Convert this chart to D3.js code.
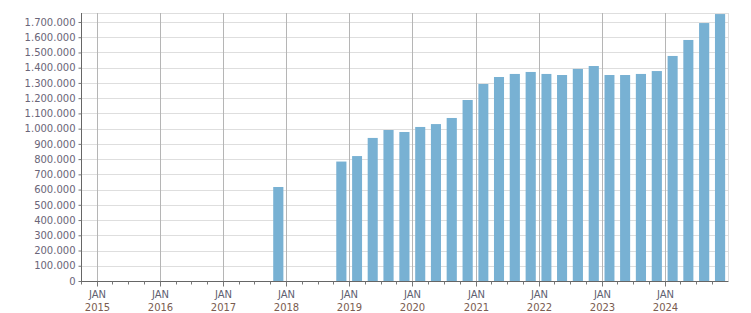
<!DOCTYPE html>
<html>
<head>
<meta charset="utf-8">
<script src="https://cdn.jsdelivr.net/npm/d3@7"></script>
<style>
  html, body { margin: 0; padding: 0; background: #fff; }
  svg { display: block; }
  text { font-family: "DejaVu Sans", Verdana, sans-serif; font-size: 10px; }
</style>
</head>
<body>
<svg id="chart" width="751" height="313"></svg>
<script>
// Quarter start months (YYYY-MM) of each bar
const quarters = ["2017-10",
  "2018-10", "2019-01", "2019-04", "2019-07", "2019-10",
  "2020-01", "2020-04", "2020-07", "2020-10",
  "2021-01", "2021-04", "2021-07", "2021-10",
  "2022-01", "2022-04", "2022-07", "2022-10",
  "2023-01", "2023-04", "2023-07", "2023-10",
  "2024-01", "2024-04", "2024-07", "2024-10"];
const values = [617000,
  784000, 820000, 939000, 991000, 978000,
  1011000, 1030000, 1070000, 1188000,
  1293000, 1339000, 1359000, 1372000,
  1359000, 1352000, 1392000, 1411000,
  1352000, 1352000, 1359000, 1378000,
  1477000, 1582000, 1693000, 1752000];
const yTicks = [0, 100000, 200000, 300000, 400000, 500000, 600000, 700000, 800000,
  900000, 1000000, 1100000, 1200000, 1300000, 1400000, 1500000, 1600000, 1700000];
const yearLabels = ["2015", "2016", "2017", "2018", "2019", "2020", "2021", "2022", "2023", "2024"];
const monthLabel = "JAN";

(function () {
const svg = d3.select("#chart");
const mLeft = 81, mRight = 728, mTop = 13, mBottom = 281;

const parse = d3.timeParse("%Y-%m");
const x = d3.scaleTime()
  .domain([new Date(2014, 9, 1), new Date(2025, 0, 1)])
  .range([mLeft, mRight]);
const y = d3.scaleLinear().domain([0, 1759000]).range([mBottom, mTop]);

const locale = d3.formatLocale({decimal: ",", thousands: ".", grouping: [3], currency: ["", ""]});
const fmt = locale.format(",d");

// horizontal grid
svg.append("g").selectAll("line").data(yTicks.filter(d => d > 0)).join("line")
  .attr("x1", mLeft).attr("x2", mRight)
  .attr("y1", d => Math.round(y(d)) + 0.5).attr("y2", d => Math.round(y(d)) + 0.5)
  .attr("stroke", "#dedede").attr("stroke-width", 1);
// top and right border
svg.append("line").attr("x1", mLeft).attr("x2", mRight + 0.5).attr("y1", mTop + 0.5).attr("y2", mTop + 0.5)
  .attr("stroke", "#dedede");
svg.append("line").attr("x1", mRight + 0.5).attr("x2", mRight + 0.5).attr("y1", mTop).attr("y2", mBottom)
  .attr("stroke", "#dedede");

// vertical year grid
const years = yearLabels.map(s => new Date(+s, 0, 1));
svg.append("g").selectAll("line").data(years).join("line")
  .attr("x1", d => Math.round(x(d)) + 0.5).attr("x2", d => Math.round(x(d)) + 0.5)
  .attr("y1", mTop).attr("y2", mBottom)
  .attr("stroke", "#b5b5b5").attr("stroke-width", 1);

// bars
const data = quarters.map((q, i) => ({start: parse(q), value: values[i]}));
const bw = d => (x(d3.timeMonth.offset(d.start, 3)) - x(d.start)) * 0.64;
svg.append("g").selectAll("rect").data(data).join("rect")
  .attr("x", d => {
    const s = x(d.start), e = x(d3.timeMonth.offset(d.start, 3));
    return s + (e - s - bw(d)) / 2;
  })
  .attr("width", bw)
  .attr("y", d => y(d.value))
  .attr("height", d => y(0) - y(d.value))
  .attr("fill", "#78b1d3");

// y axis
const yAxis = svg.append("g").attr("transform", `translate(${mLeft + 0.5},0)`)
  .call(d3.axisLeft(y).tickValues(yTicks).tickFormat(fmt).tickSize(3).tickPadding(3).tickSizeOuter(0));
yAxis.select(".domain").attr("stroke", "#666").attr("d", `M0,${mTop}V${mBottom + 0.5}`);
yAxis.selectAll(".tick line").attr("stroke", "#777");
yAxis.selectAll(".tick text").attr("fill", "#6a6578").style("font-family", "'DejaVu Sans', sans-serif").style("font-size", "10px");

// x axis
const xg = svg.append("g").attr("transform", `translate(0,${mBottom + 0.5})`);
xg.append("line").attr("x1", mLeft).attr("x2", mRight + 0.5).attr("stroke", "#666");
const minor = d3.timeMonth.every(3).range(x.domain()[0], d3.timeDay.offset(x.domain()[1], 1));
xg.selectAll("line.minor").data(minor.filter(d => d.getMonth() !== 0)).join("line")
  .attr("class", "minor")
  .attr("x1", d => Math.round(x(d)) + 0.5).attr("x2", d => Math.round(x(d)) + 0.5)
  .attr("y1", 0).attr("y2", 3).attr("stroke", "#777");
xg.selectAll("line.major").data(years).join("line")
  .attr("class", "major")
  .attr("x1", d => Math.round(x(d)) + 0.5).attr("x2", d => Math.round(x(d)) + 0.5)
  .attr("y1", 0).attr("y2", 5).attr("stroke", "#777");
const lbl = xg.selectAll("g.lbl").data(years).join("g")
  .attr("class", "lbl")
  .attr("transform", d => `translate(${Math.round(x(d)) + 0.5},0)`);
lbl.append("text").attr("y", 16.5).attr("text-anchor", "middle").attr("fill", "#606070").text(monthLabel);
lbl.append("text").attr("y", 29.5).attr("text-anchor", "middle").attr("fill", "#7a5c50").text((d, i) => yearLabels[i]);
})();
</script>
</body>
</html>
